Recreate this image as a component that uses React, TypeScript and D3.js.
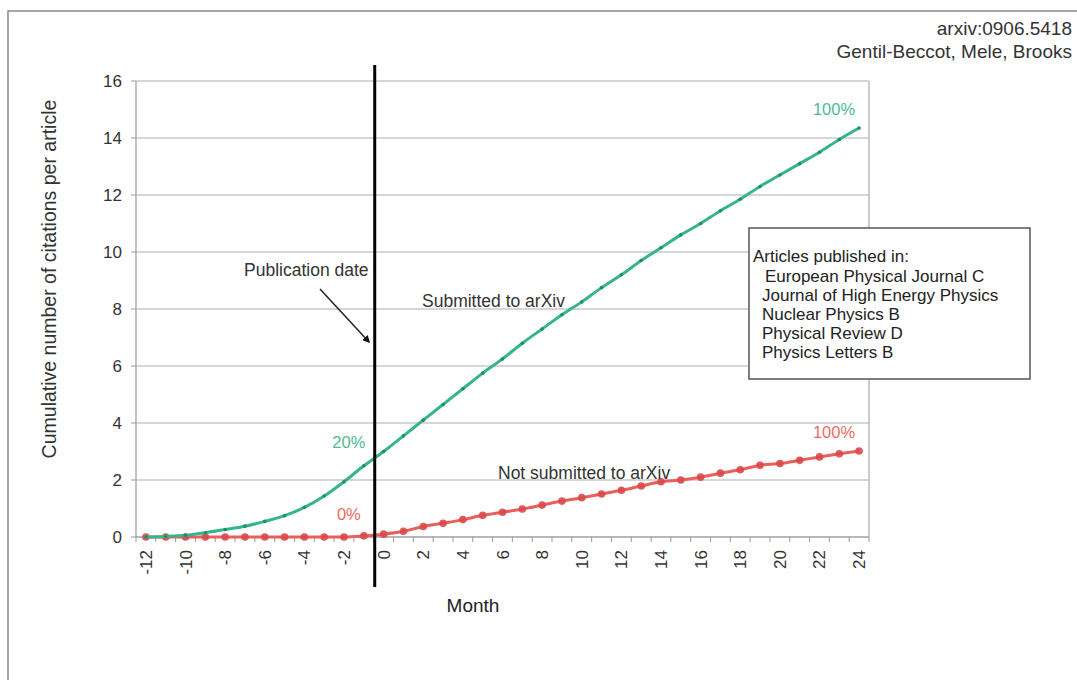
import React from "react";
import * as d3 from "d3";

const months: number[] = d3.range(-12, 25);
const submitted: number[] = [
  0, 0.02, 0.06, 0.15, 0.26, 0.38, 0.55, 0.75, 1.04, 1.44, 1.94, 2.5, 3.0,
  3.55, 4.1, 4.65, 5.2, 5.75, 6.25, 6.8, 7.3, 7.8, 8.25, 8.75, 9.2, 9.7, 10.15,
  10.6, 11.0, 11.45, 11.85, 12.3, 12.7, 13.1, 13.5, 13.95, 14.35,
];
const notSubmitted: number[] = [
  0, 0, 0, 0, 0, 0, 0, 0, 0, 0, 0, 0.04, 0.1, 0.2, 0.37, 0.48, 0.61, 0.76,
  0.87, 0.98, 1.12, 1.26, 1.38, 1.51, 1.64, 1.79, 1.94, 2.0, 2.1, 2.24, 2.36,
  2.52, 2.58, 2.69, 2.81, 2.92, 3.02,
];
const yTicks: number[] = [0, 2, 4, 6, 8, 10, 12, 14, 16];
const journals: string[] = [
  "European Physical Journal C",
  "Journal of High Energy Physics",
  "Nuclear Physics B",
  "Physical Review D",
  "Physics Letters B",
];

const GREEN = "#35b58c";
const GREEN_DK = "#1e8f68";
const GREEN_TXT = "#4dbb94";
const RED = "#ea5f5c";
const RED_DK = "#d9494a";
const RED_TXT = "#ec6b5e";
const FONT = "'Liberation Sans', Arial, sans-serif";

export default function App() {
  const x = d3.scaleBand<number>().domain(months).range([136, 869]).padding(0);
  const y = d3.scaleLinear().domain([0, 16]).range([537, 81]);
  const cx = (m: number) => (x(m) as number) + x.bandwidth() / 2;
  const line = d3
    .line<number>()
    .x((_, i) => cx(months[i]))
    .y((d) => y(d))
    .curve(d3.curveMonotoneX);
  const boundaries = d3.range(0, months.length + 1).map((k) => 136 + k * x.bandwidth());
  const pubX = x(0) as number;
  const last = months.length - 1;

  return (
    <svg width={1077} height={680} style={{ position: "absolute", left: 0, top: 0, background: "#fff" }} fontFamily={FONT}>
      <defs>
        <marker id="arrow" viewBox="0 0 10 10" refX="8" refY="5" markerWidth="5" markerHeight="5" orient="auto">
          <path d="M0,0 L10,5 L0,10 z" fill="#111" />
        </marker>
      </defs>
      {/* outer frame */}
      <rect x={8} y={11} width={1200} height={800} fill="none" stroke="#888" strokeWidth={1.5} />
      {/* gridlines */}
      {yTicks.map((t) => (
        <line key={t} x1={136} x2={869} y1={y(t)} y2={y(t)} stroke="#c8c8c8" strokeWidth={1.5} />
      ))}
      {/* plot border */}
      <line x1={869} x2={869} y1={81} y2={537} stroke="#aaa" strokeWidth={1.2} />
      <line x1={136} x2={136} y1={81} y2={537} stroke="#999" strokeWidth={1.2} />
      <line x1={136} x2={869} y1={537} y2={537} stroke="#999" strokeWidth={1.2} />
      {/* y ticks */}
      {yTicks.map((t) => (
        <g key={t}>
          <line x1={131} x2={136} y1={y(t)} y2={y(t)} stroke="#999" />
          <text x={122} y={y(t) + 6} textAnchor="end" fontSize={17} fill="#333">
            {t}
          </text>
        </g>
      ))}
      {/* x ticks */}
      {boundaries.map((b, i) => (
        <line key={i} x1={b} x2={b} y1={537} y2={542} stroke="#999" />
      ))}
      {months
        .filter((m) => m % 2 === 0)
        .map((m) => (
          <text
            key={m}
            transform={`translate(${cx(m) + 6},${550}) rotate(-90)`}
            textAnchor="end"
            fontSize={17}
            fill="#333"
          >
            {m}
          </text>
        ))}
      <text x={473} y={612} textAnchor="middle" fontSize={19} fill="#222">
        Month
      </text>
      <text transform="translate(56,279) rotate(-90)" textAnchor="middle" fontSize={19.5} fill="#333">
        Cumulative number of citations per article
      </text>
      {/* series */}
      <path d={line(notSubmitted) || ""} fill="none" stroke={RED} strokeWidth={3} />
      {notSubmitted.map((v, i) => (
        <circle key={i} cx={cx(months[i])} cy={y(v)} r={3.8} fill={RED_DK} opacity={0.9} />
      ))}
      <path d={line(submitted) || ""} fill="none" stroke={GREEN} strokeWidth={3} />
      {submitted.map((v, i) => (
        <circle key={i} cx={cx(months[i])} cy={y(v)} r={1.8} fill={GREEN_DK} />
      ))}
      {/* publication line */}
      <line x1={pubX + 1} x2={pubX + 1} y1={65} y2={587} stroke="#000" strokeWidth={3} />
      {/* annotations */}
      <text x={244} y={276} fontSize={17.5} fill="#333">Publication date</text>
      <line x1={320} y1={289} x2={369} y2={342} stroke="#222" strokeWidth={1.5} markerEnd="url(#arrow)" />
      <text x={422} y={307} fontSize={17.5} fill="#333">Submitted to arXiv</text>
      <text x={498} y={479} fontSize={17.5} fill="#333">Not submitted to arXiv</text>
      <text x={cx(-1) - 15} y={448} textAnchor="middle" fontSize={16.5} fill={GREEN_TXT}>20%</text>
      <text x={cx(-1) - 15} y={520} textAnchor="middle" fontSize={16.5} fill={RED_TXT}>0%</text>
      <text x={cx(months[last]) - 4} y={y(submitted[last]) - 13} textAnchor="end" fontSize={16.5} fill={GREEN_TXT}>100%</text>
      <text x={cx(months[last]) - 4} y={y(notSubmitted[last]) - 13} textAnchor="end" fontSize={16.5} fill={RED_TXT}>100%</text>
      {/* source */}
      <text x={1072} y={35} textAnchor="end" fontSize={19} fill="#333">arxiv:0906.5418</text>
      <text x={1072} y={58} textAnchor="end" fontSize={19} fill="#333">Gentil-Beccot, Mele, Brooks</text>
      {/* legend box */}
      <rect x={749} y={228} width={281} height={151} fill="#fff" stroke="#555" strokeWidth={1.5} />
      <text x={753} y={262} fontSize={17} fill="#222">Articles published in:</text>
      {journals.map((j, i) => (
        <text key={j} x={i === 0 ? 765 : 762} y={282 + i * 19} fontSize={17} fill="#222">
          {j}
        </text>
      ))}
    </svg>
  );
}
